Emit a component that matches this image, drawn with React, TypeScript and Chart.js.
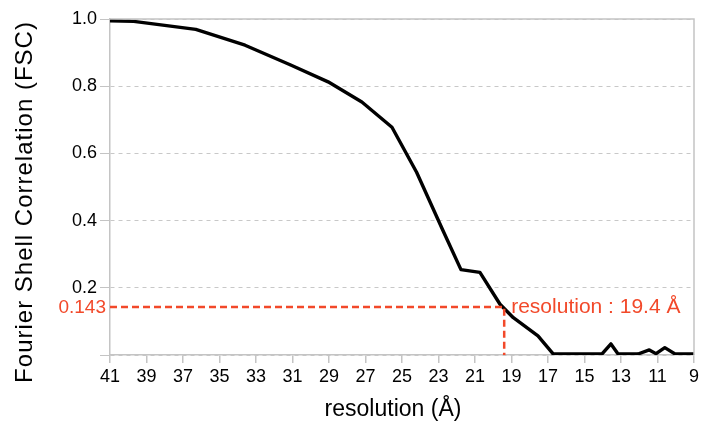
import React, { useEffect, useRef } from "react";
import { Chart, registerables } from "chart.js";

Chart.register(...registerables);

const resolution = [41, 39.7, 36.3, 33.6, 31.1, 29.05, 27.2, 25.55, 24.2, 22.75, 21.77, 20.73, 19.63, 18.9, 17.55, 16.73, 14.04, 13.55, 13.16, 12.07, 11.45, 11.08, 10.6, 10.04, 9];
const fsc = [0.995, 0.993, 0.969, 0.922, 0.863, 0.813, 0.753, 0.678, 0.544, 0.37, 0.254, 0.246, 0.151, 0.111, 0.057, 0.004, 0.003, 0.033, 0.003, 0.003, 0.015, 0.004, 0.022, 0.003, 0.003];
const xTicks = [41, 39, 37, 35, 33, 31, 29, 27, 25, 23, 21, 19, 17, 15, 13, 11, 9];
const yTicks = [0, 0.143, 0.2, 0.4, 0.6, 0.8, 1.0];
const threshold = 0.143;
const cutoff = 19.4;
const xTitle = "resolution (Å)";
const yTitle = "Fourier Shell Correlation (FSC)";

const RED = "#f2492a";
const FONT = "'Liberation Sans', Arial, Helvetica, sans-serif";

export default function App() {
  const ref = useRef<HTMLCanvasElement | null>(null);
  useEffect(() => {
    document.body.style.margin = "0";
    const canvas = ref.current!;
    const framePlugin = {
      id: "frame",
      afterDraw(chart: any) {
        const { ctx, chartArea } = chart;
        const xs = chart.scales.x;
        const ys = chart.scales.y;
        ctx.save();
        ctx.strokeStyle = "#c4c4c4";
        ctx.lineWidth = 1.5;
        ctx.beginPath();
        ctx.moveTo(chartArea.left, chartArea.top);
        ctx.lineTo(chartArea.right, chartArea.top);
        ctx.lineTo(chartArea.right, chartArea.bottom);
        ctx.stroke();
        const ty = ys.getPixelForValue(threshold);
        ctx.fillStyle = RED;
        ctx.textBaseline = "middle";
        ctx.font = `21px ${FONT}`;
        ctx.textAlign = "left";
        ctx.fillText(`resolution : ${cutoff} Å`, xs.getPixelForValue(cutoff) + 7, ty);
        ctx.font = `19px ${FONT}`;
        ctx.textAlign = "right";
        ctx.fillText(String(threshold), chartArea.left - 4, ty + 1);
        // axis titles
        ctx.fillStyle = "#000";
        ctx.font = `23px ${FONT}`;
        ctx.textAlign = "center";
        ctx.fillText(xTitle, (chartArea.left + chartArea.right) / 2 - 9, 410);
        ctx.translate(25, chartArea.bottom - 153);
        ctx.rotate(-Math.PI / 2);
        ctx.font = `24px ${FONT}`;
        (ctx as any).letterSpacing = "1px";
        ctx.fillText(yTitle, 0, 0);
        ctx.restore();
      },
    };
    const chart = new Chart(canvas, {
      type: "line",
      data: {
        datasets: [
          {
            data: [
              { x: resolution[0], y: threshold },
              { x: cutoff, y: threshold },
              { x: cutoff, y: 0 },
            ],
            borderColor: RED,
            borderWidth: 2.5,
            borderDash: [7, 4],
            pointRadius: 0,
            tension: 0,
          },
          {
            data: resolution.map((r, i) => ({ x: r, y: fsc[i] })),
            borderColor: "#000",
            borderWidth: 3.4,
            pointRadius: 0,
            tension: 0,
            borderJoinStyle: "round",
          },
        ],
      },
      options: {
        animation: false,
        responsive: false,
        layout: { padding: { top: 19, right: 10, left: 0, bottom: 0 } },
        plugins: { legend: { display: false }, tooltip: { enabled: false } },
        scales: {
          x: {
            type: "linear",
            reverse: true,
            min: 9,
            max: 41,
            afterBuildTicks: (s: any) => {
              s.ticks = xTicks.map((v) => ({ value: v }));
            },
            afterFit: (s: any) => {
              s.height = 68;
            },
            grid: { drawOnChartArea: false, color: "#c4c4c4", tickLength: 8, lineWidth: 1.5 },
            border: { color: "#c4c4c4", width: 1.5 },
            ticks: { color: "#000", font: { size: 18, family: FONT }, padding: 3, maxRotation: 0, autoSkip: false },
            title: { display: false },
          },
          y: {
            min: 0,
            max: 1,
            afterBuildTicks: (s: any) => {
              s.ticks = yTicks.map((v) => ({ value: v }));
            },
            afterFit: (s: any) => {
              s.width = 110;
            },
            grid: {
              color: (c: any) => (c.tick && c.tick.value === threshold ? "rgba(0,0,0,0)" : "#c8c8c8"),
              tickColor: (c: any) => (c.tick && c.tick.value === threshold ? "rgba(0,0,0,0)" : "#c4c4c4"),
              tickLength: 10,
              lineWidth: 1,
            },
            border: { color: "#c4c4c4", width: 1.5, dash: [4, 4] },
            ticks: {
              color: "#000",
              font: { size: 18, family: FONT },
              padding: 3,
              autoSkip: false,
              callback: (v: any) => (v === 0 || v === threshold ? "" : Number(v).toFixed(1)),
            },
            title: { display: false },
          },
        },
      },
      plugins: [framePlugin],
    } as any);
    return () => chart.destroy();
  }, []);
  return (
    <div style={{ width: 704, height: 423, background: "#fff" }}>
      <canvas ref={ref} width={704} height={423} />
    </div>
  );
}
